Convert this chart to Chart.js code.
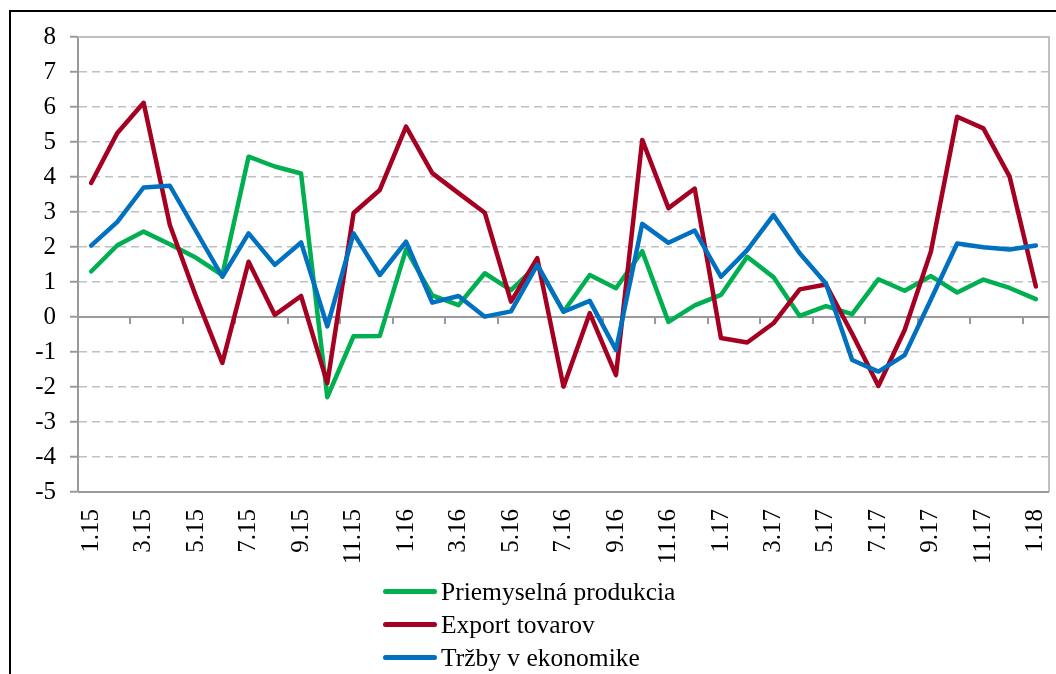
<!DOCTYPE html>
<html>
<head>
<meta charset="utf-8">
<script src="https://cdn.jsdelivr.net/npm/chart.js@4/dist/chart.umd.min.js"></script>
<style>
  html, body { margin: 0; padding: 0; background: #fff; overflow: hidden; }
  #wrap { position: relative; width: 1056px; height: 674px; }
  #frame { position: absolute; left: 9px; top: 10px; width: 1100px; height: 700px; border: 2px solid #000; }
  #box { position: absolute; left: 0; top: 0; width: 1056px; height: 674px; }
  #legend { position: absolute; left: 383px; top: 575px; font-family: "Liberation Serif", serif; font-size: 25.5px; color: #000; }
  #legend .row { display: flex; align-items: center; height: 33px; }
  #legend .sw { display: inline-block; width: 54px; height: 5px; border-radius: 3px; margin-right: 4px; }
</style>
</head>
<body>
<div id="wrap">
  <div id="frame"></div>
  <div id="box"><canvas id="chart"></canvas></div>
  <div id="legend"></div>
</div>
<script>
const months = ['1.15','2.15','3.15','4.15','5.15','6.15','7.15','8.15','9.15','10.15','11.15','12.15',
  '1.16','2.16','3.16','4.16','5.16','6.16','7.16','8.16','9.16','10.16','11.16','12.16',
  '1.17','2.17','3.17','4.17','5.17','6.17','7.17','8.17','9.17','10.17','11.17','12.17','1.18'];

const priemysel = [1.3, 2.05, 2.44, 2.08, 1.69, 1.2, 4.58, 4.3, 4.1, -2.29, -0.55, -0.54,
  1.93, 0.62, 0.34, 1.25, 0.77, 1.48, 0.15, 1.2, 0.82, 1.88, -0.14, 0.33,
  0.63, 1.72, 1.14, 0.03, 0.31, 0.08, 1.08, 0.75, 1.17, 0.7, 1.07, 0.83, 0.51];

const export_ = [3.83, 5.26, 6.12, 2.63, 0.58, -1.31, 1.58, 0.06, 0.6, -1.89, 2.97, 3.63,
  5.44, 4.11, 3.54, 2.98, 0.44, 1.68, -1.99, 0.11, -1.66, 5.06, 3.11, 3.67,
  -0.6, -0.73, -0.18, 0.79, 0.93, -0.48, -1.97, -0.37, 1.87, 5.72, 5.39, 4.01, 0.87];

const trzby = [2.04, 2.72, 3.7, 3.75, 2.45, 1.15, 2.39, 1.49, 2.13, -0.27, 2.39, 1.2,
  2.15, 0.41, 0.6, 0.01, 0.16, 1.49, 0.15, 0.46, -0.94, 2.66, 2.12, 2.47,
  1.15, 1.91, 2.91, 1.82, 0.96, -1.23, -1.56, -1.09, 0.5, 2.1, 1.99, 1.93, 2.04];

const yMin = -5;
const yMax = 8;

const font = "'Liberation Serif', serif";

// zero line, frame of the plot area and the small ticks on the zero line
const extras = {
  id: 'extras',
  beforeDatasetsDraw(chart) {
    const {ctx, chartArea: a, scales: {x, y}} = chart;
    ctx.save();
    ctx.lineWidth = 2;
    ctx.strokeStyle = '#c0c0c0';
    ctx.beginPath();
    ctx.moveTo(a.left, y.getPixelForValue(yMax));
    ctx.lineTo(a.right, y.getPixelForValue(yMax));
    ctx.lineTo(a.right, y.getPixelForValue(yMin));
    ctx.stroke();

    ctx.strokeStyle = '#9a9a9a';
    const y0 = y.getPixelForValue(0);
    ctx.beginPath();
    ctx.moveTo(a.left, y0);
    ctx.lineTo(a.right, y0);
    ctx.moveTo(a.left, y.getPixelForValue(yMin));
    ctx.lineTo(a.right, y.getPixelForValue(yMin));
    const half = (x.getPixelForValue(1) - x.getPixelForValue(0)) / 2;
    for (let i = 2; i < months.length; i += 2) {
      const px = Math.round(x.getPixelForValue(i) - half);
      ctx.moveTo(px, y0);
      ctx.lineTo(px, y0 + 7);
    }
    ctx.stroke();
    ctx.restore();
  }
};

const chart = new Chart(document.getElementById('chart'), {
  type: 'line',
  data: {
    labels: months,
    datasets: [
      { label: 'Priemyselná produkcia', data: priemysel, borderColor: '#00b050', order: 2 },
      { label: 'Export tovarov', data: export_, borderColor: '#a50021', order: 1 },
      { label: 'Tržby v ekonomike', data: trzby, borderColor: '#0070c0', order: 0 }
    ]
  },
  options: {
    responsive: true,
    maintainAspectRatio: false,
    animation: false,
    layout: { padding: { top: 37, right: 7, bottom: 104, left: 0 } },
    elements: {
      line: { borderWidth: 4.5, tension: 0, borderJoinStyle: 'round', borderCapStyle: 'round', fill: false },
      point: { radius: 0, hoverRadius: 0 }
    },
    plugins: { legend: { display: false }, tooltip: { enabled: false } },
    scales: {
      x: {
        offset: true,
        grid: { display: false, drawTicks: false },
        border: { display: false },
        afterFit: (s) => { s.height = 78; s.paddingLeft = 0; s.paddingRight = 0; },
        ticks: {
          autoSkip: false,
          minRotation: 90,
          maxRotation: 90,
          padding: 17,
          color: '#000',
          font: { family: font, size: 25 },
          callback: function (v, i) { return i % 2 === 0 ? this.getLabelForValue(v) : ''; }
        }
      },
      y: {
        min: yMin,
        max: yMax,
        afterFit: (s) => { s.width = 78; },
        grid: { color: '#c0c0c0', lineWidth: 1.5, tickLength: 8, tickColor: '#9a9a9a', tickWidth: 2 },
        border: { display: true, color: '#9a9a9a', width: 2, dash: [8, 5] },
        ticks: {
          stepSize: 1,
          padding: 14,
          color: '#000',
          font: { family: font, size: 25 }
        }
      }
    }
  },
  plugins: [extras]
});

// legend as a vertical list under the axis labels
const legend = document.getElementById('legend');
chart.data.datasets.forEach(ds => {
  const row = document.createElement('div');
  row.className = 'row';
  const sw = document.createElement('span');
  sw.className = 'sw';
  sw.style.background = ds.borderColor;
  const txt = document.createElement('span');
  txt.textContent = ds.label;
  row.appendChild(sw);
  row.appendChild(txt);
  legend.appendChild(row);
});
</script>
</body>
</html>
